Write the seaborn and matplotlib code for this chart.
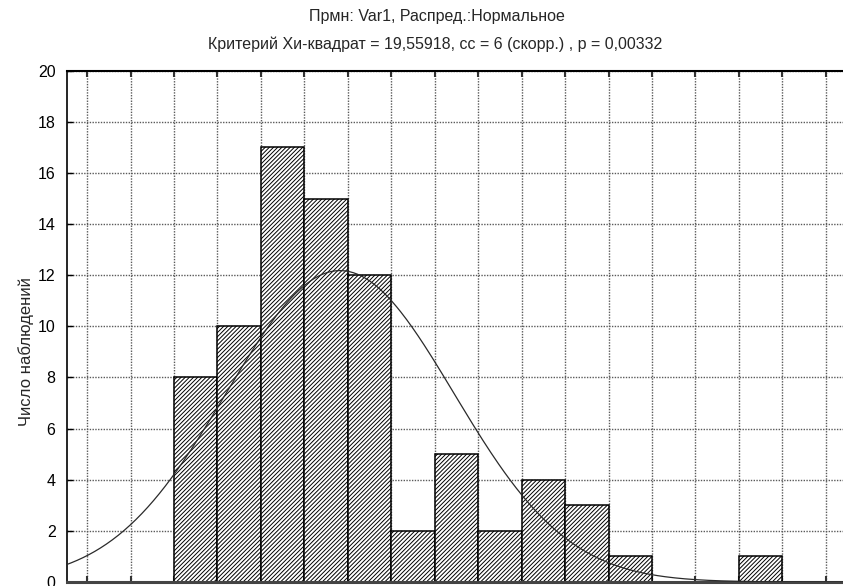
import numpy as np
import pandas as pd
import matplotlib
matplotlib.use("Agg")
import matplotlib.pyplot as plt
import seaborn as sns

# Histogram of Var1: bin edges (in class units) and observed counts
bin_edges = [0, 1, 2, 3, 4, 5, 6, 7, 8, 9, 10, 11, 12, 13, 14]
counts = [8, 10, 17, 15, 12, 2, 5, 2, 4, 3, 1, 0, 0, 1]

# Fitted normal distribution (class units)
fit_mean = 3.82
fit_sd = 2.62

y_ticks = [0, 2, 4, 6, 8, 10, 12, 14, 16, 18, 20]
x_grid = list(range(-2, 16))

title_line1 = "Прмн: Var1, Распред.:Нормальное"
title_line2 = "Критерий Хи-квадрат = 19,55918, сс = 6 (скорр.) , р = 0,00332"
y_label = "Число наблюдений"

sns.set_style("white")
plt.rcParams["font.family"] = ["Liberation Sans Narrow", "Liberation Sans", "DejaVu Sans"]
plt.rcParams["hatch.linewidth"] = 0.7
plt.rcParams["hatch.color"] = "#262626"

W, H = 843, 586
fig = plt.figure(figsize=(W / 100, H / 100), dpi=100)

# axes placed in pixel coordinates; the right part runs past the canvas edge
x0, x1 = 66.7, 847.5
y_top, y_bot = 70.7, 582.0
ax = fig.add_axes([x0 / W, 1 - y_bot / H, (x1 - x0) / W, (y_bot - y_top) / H])

centers = [(bin_edges[i] + bin_edges[i + 1]) / 2 for i in range(len(counts))]
edges_full = bin_edges + [bin_edges[-1] + 1]
df = pd.DataFrame({"center": centers, "count": counts})

sns.histplot(data=df, x="center", weights="count", bins=edges_full,
             stat="count", ax=ax, color="white", alpha=1.0,
             edgecolor="black", linewidth=1.1, hatch="////////", zorder=2)

# expected frequencies of the fitted normal curve
n_total = sum(counts)
xs = np.linspace(-2.5, 15.5, 400)
ys = n_total * 1.0 * np.exp(-0.5 * ((xs - fit_mean) / fit_sd) ** 2) / (fit_sd * np.sqrt(2 * np.pi))
sns.lineplot(x=xs, y=ys, ax=ax, color="#2a2a2a", linewidth=0.9, zorder=3)

ax.set_xlim(-2.47, 15.5)
ax.set_ylim(0, 20)
ax.set_yticks(y_ticks)
ax.set_xticks(x_grid)
ax.set_xticklabels([])
ax.set_xlabel("")
ax.grid(True, which="major", color="#5a5a5a", linestyle=(0, (1, 1)), linewidth=1.0, zorder=0)
ax.set_axisbelow(True)

ax.tick_params(axis="y", direction="in", length=4, width=1, colors="black",
               labelsize=11.5, pad=8, left=True)
ax.tick_params(axis="x", direction="in", length=4, width=1.5, colors="#333333",
               top=True, bottom=True)

for s in ["top", "left", "bottom"]:
    ax.spines[s].set_visible(True)
ax.spines["top"].set_color("black")
ax.spines["top"].set_linewidth(1.5)
ax.spines["left"].set_color("black")
ax.spines["left"].set_linewidth(1.2)
ax.spines["bottom"].set_color("#444444")
ax.spines["bottom"].set_linewidth(2.2)
ax.spines["right"].set_visible(False)

ax.set_ylabel(y_label, fontsize=12, labelpad=12)
ax.yaxis.set_label_coords(-0.042, 0.45)

fig.text(437 / W, 1 - 17 / H, title_line1, ha="center", va="center", fontsize=11.5)
fig.text(435 / W, 1 - 44 / H, title_line2, ha="center", va="center", fontsize=11.5)

fig.savefig("out.png", dpi=100)
